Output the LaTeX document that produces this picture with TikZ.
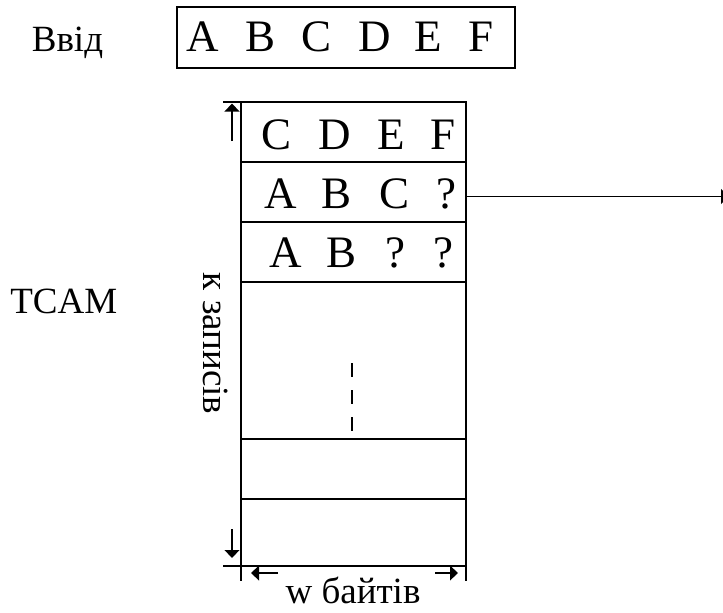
\documentclass[tikz,border=0pt]{standalone}
\usepackage{fontspec}
\setmainfont{Liberation Serif}
\usetikzlibrary{arrows.meta}

\begin{document}
\begin{tikzpicture}[x=0.75pt,y=-0.75pt,line width=1.25pt,
  letter/.style={font=\fontsize{33.75pt}{36pt}\selectfont,inner sep=0pt,anchor=base},
  lbl/.style={font=\fontsize{27.75pt}{30pt}\selectfont,inner sep=0pt},
  cell/.style={draw,minimum width=168.75pt,inner sep=0pt,outer sep=0pt},
  tip/.style={-{Triangle[length=6pt,width=11pt]}}]
\useasboundingbox (0,0) rectangle (723,612);

% input word
\node[lbl,anchor=base west] (inlbl) at (31,51) {Ввід};
\node[draw,minimum width=253.5pt,minimum height=45.75pt,inner sep=0pt,outer sep=0pt] (inbox) at (346,37.5) {};
\foreach \ch/\x [count=\i] in {A/203,B/261,C/317,D/375,E/428,F/481}
  \node[letter] (in\i) at (\x,51) {\ch};

% TCAM table rows
\node[cell,minimum height=45pt] (r1) at (353.5,132) {};
\node[cell,minimum height=45pt] (r2) at (353.5,192) {};
\node[cell,minimum height=45pt] (r3) at (353.5,252) {};
\node[cell,minimum height=117.75pt] (r4) at (353.5,360.5) {};
\node[cell,minimum height=45pt] (r5) at (353.5,469) {};
\node[cell,minimum height=50.25pt] (r6) at (353.5,532.5) {};

\foreach \ch/\x [count=\i] in {C/277,D/335,E/391,F/443}
  \node[letter] (a\i) at (\x,149) {\ch};
\foreach \ch/\x [count=\i] in {A/281,B/337,C/394,?/446}
  \node[letter] (b\i) at (\x,208) {\ch};
\foreach \ch/\x [count=\i] in {A/286,B/342,?/395,?/443}
  \node[letter] (c\i) at (\x,267) {\ch};

% omitted entries
\coordinate (dots) at (352,363);
\draw[dash pattern=on 10.5pt off 9.75pt] (dots) -- (dots |- r5.north);

% match output
\coordinate (out) at (729,196.5);
\draw[tip] (out -| r2.east) -- (out);

% height dimension
\draw (r1.north west) -- ++(-18,0);
\draw (r6.south west) -- ++(-18,0);
\coordinate (ktail) at (232,141);
\coordinate (khead) at (232,103.5);
\draw[tip] (ktail) -- (khead);
\coordinate (ktail2) at (232,529);
\coordinate (khead2) at (232,558);
\draw[tip] (ktail2) -- (khead2);
\node[lbl,rotate=-90,anchor=base west] (klbl) at (203,272) {к записів};

% width dimension
\draw (r6.south west) -- ++(0,15);
\draw (r6.south east) -- ++(0,15);
\coordinate (wtail) at (278,573);
\coordinate (whead) at (251,573);
\draw[tip] (wtail) -- (whead);
\coordinate (wtail2) at (435,573);
\coordinate (whead2) at (458,573);
\draw[tip] (wtail2) -- (whead2);
\node[lbl,anchor=base] (wlbl) at (353,603) {w байтів};

\node[lbl,anchor=base east] (tcam) at (118,313) {TCAM};
\end{tikzpicture}
\end{document}
